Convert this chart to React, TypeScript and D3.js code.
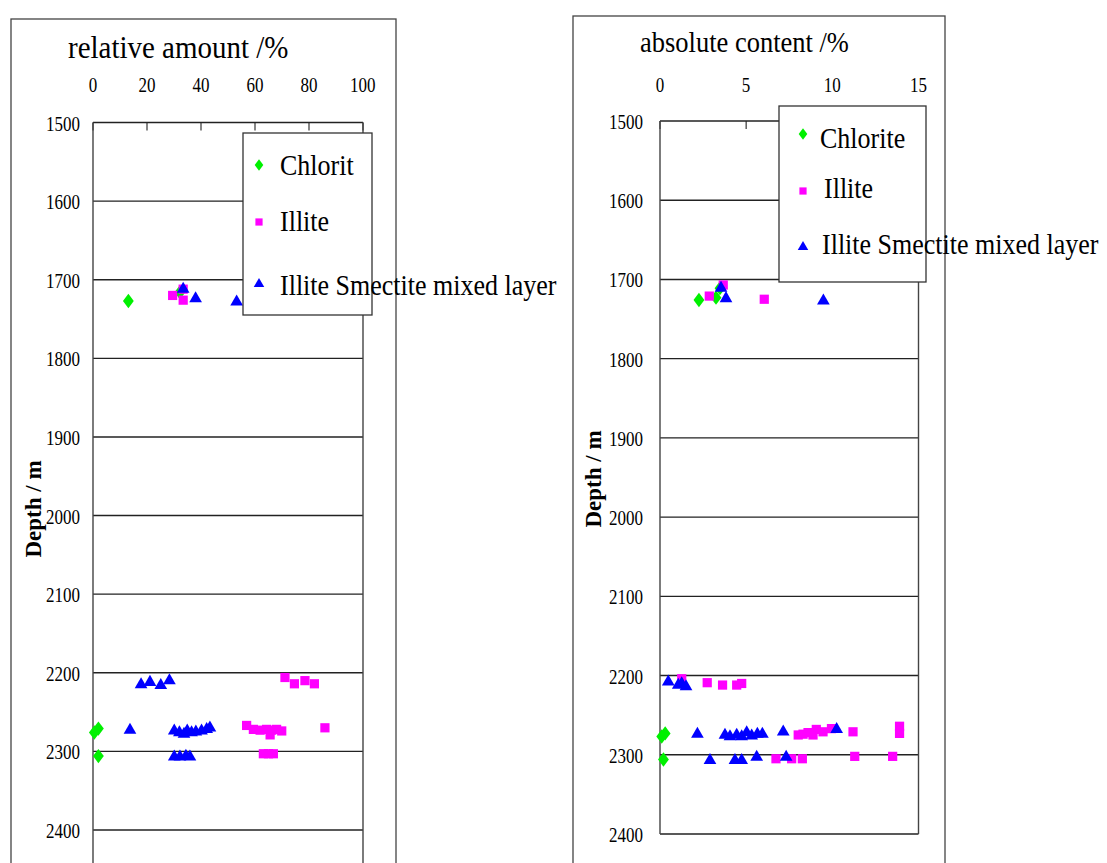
import * as d3 from 'd3'

// depth (m) vs. value
const depthTicks = [1500, 1600, 1700, 1800, 1900, 2000, 2100, 2200, 2300, 2400]
const relTicks = [0, 20, 40, 60, 80, 100]
const absTicks = [0, 5, 10, 15]

const relChlorite = [[13.1, 1727], [32.2, 1716], [0.5, 2276], [2, 2271], [2, 2306]]
const relIllite = [
  [29.5, 1720], [33.4, 1712], [33.4, 1726],
  [71.1, 2206], [74.6, 2214], [78.5, 2210], [82, 2214],
  [56.9, 2267], [59.4, 2272], [61.9, 2273], [64.3, 2272], [66.2, 2273], [68, 2272], [69.9, 2274], [65.6, 2279], [85.9, 2270],
  [63.1, 2303], [65, 2303], [66.8, 2303],
]
const relMixed = [
  [33.4, 1712], [38, 1724], [53.2, 1728],
  [17.8, 2215], [21.1, 2212], [25.1, 2216], [28.3, 2210],
  [13.7, 2273], [30.1, 2274], [32, 2276], [33.7, 2278], [34.9, 2274], [36.5, 2276], [38.1, 2275], [40.2, 2274], [42.1, 2272], [43.3, 2270],
  [30.1, 2307], [32.2, 2307], [34.4, 2306], [35.9, 2307],
]

const absChlorite = [[2.26, 1726], [3.25, 1723], [3.48, 1711], [0.1, 2277], [0.3, 2273], [0.2, 2306]]
const absIllite = [
  [2.86, 1721], [3.67, 1707], [6.05, 1725],
  [1.26, 2204], [2.74, 2209], [3.63, 2212], [4.45, 2212], [4.74, 2210],
  [8.02, 2275], [8.3, 2274], [8.59, 2272], [8.88, 2275], [9.07, 2268], [9.46, 2271], [9.95, 2267], [11.2, 2271], [13.9, 2264], [13.9, 2273],
  [6.73, 2305], [7.64, 2305], [8.26, 2305], [11.3, 2302], [13.5, 2302],
]
const absMixed = [
  [3.54, 1711], [3.83, 1724], [9.48, 1727],
  [0.48, 2208], [1.06, 2212], [1.26, 2210], [1.51, 2214],
  [2.17, 2274], [3.77, 2275], [4.06, 2277], [4.45, 2275], [4.74, 2277], [5.03, 2272], [5.32, 2276], [5.65, 2274], [5.94, 2274], [7.15, 2271], [10.25, 2268],
  [2.9, 2307], [4.35, 2307], [4.74, 2307], [5.61, 2303], [7.32, 2303],
]

const relLegend = ['Chlorit', 'Illite', 'Illite Smectite mixed layer']
const absLegend = ['Chlorite', 'Illite', 'Illite Smectite mixed layer']

const GREEN = '#00f000'
const MAGENTA = '#ff00ff'
const BLUE = '#0000ff'
const SERIF = 'Liberation Serif, Tinos, Times New Roman, DejaVu Serif, serif'

const diamond = d3.symbol(d3.symbolDiamond, 60)()
const square = d3.symbol(d3.symbolSquare, 85)()
const triangle = d3.symbol(d3.symbolTriangle, 70)()
const legDiamond = d3.symbol(d3.symbolDiamond, 38)()
const legSquare = d3.symbol(d3.symbolSquare, 52)()
const legTriangle = d3.symbol(d3.symbolTriangle, 48)()

function Stretch({ x, y, size, children, weight = 'normal', sy = 1.12 }) {
  return (
    <g transform={`translate(${x},${y}) scale(1,${sy})`}>
      <text style={{ fontFamily: SERIF }} fontSize={size} fontWeight={weight} fill="#000">{children}</text>
    </g>
  )
}

function Panel(p) {
  const x = d3.scaleLinear().domain(p.xDomain).range([p.left, p.right])
  const y = d3.scaleLinear().domain([1500, 2400]).range([p.top, p.bottom])
  const lg = p.legend
  const markers = [
    { path: legDiamond, color: GREEN, sx: 1.3 },
    { path: legSquare, color: MAGENTA, sx: 1 },
    { path: legTriangle, color: BLUE, sx: 1 },
  ]
  return (
    <g>
      <rect x={p.frame[0]} y={p.frame[1]} width={p.frame[2]} height={1000} fill="none" stroke="#444" strokeWidth={1.3} />
      <Stretch x={p.titleX} y={p.titleY} size={p.titleSize}>{p.title}</Stretch>
      {p.xTicks.map(t => (
        <g key={t}>
          <Stretch x={x(t) - 4.3 * String(t).length} y={92} size={17} sy={1.2}>{t}</Stretch>
          <line x1={x(t)} x2={x(t)} y1={p.top} y2={p.top + 8} stroke="#444" strokeWidth={1.3} />
        </g>
      ))}
      {depthTicks.map(t => (
        <g key={t}>
          <g transform={`translate(${p.left - p.labelGap},${y(t) + 8}) scale(1,1.2)`}>
            <text style={{ fontFamily: SERIF }} fontSize={17} textAnchor="end" fill="#000">{t}</text>
          </g>
          <line x1={p.left} x2={p.right} y1={y(t)} y2={y(t)} stroke="#222" strokeWidth={1.4} />
        </g>
      ))}
      <line x1={p.left} x2={p.left} y1={p.top} y2={p.frameBottom} stroke="#444" strokeWidth={1.4} />
      <line x1={p.right} x2={p.right} y1={p.top} y2={p.frameBottom} stroke="#444" strokeWidth={1.4} />
      <g transform={`translate(${p.depthX},${p.depthY}) rotate(-90)`}>
        <text style={{ fontFamily: SERIF }} fontSize={23} fontWeight="bold" textAnchor="middle" fill="#000">Depth / m</text>
      </g>
      {p.chlorite.map((d, i) => (
        <path key={'c' + i} d={diamond} fill={GREEN} transform={`translate(${x(d[0])},${y(d[1])}) scale(1.3,1)`} />
      ))}
      {p.illite.map((d, i) => (
        <path key={'i' + i} d={square} fill={MAGENTA} transform={`translate(${x(d[0])},${y(d[1])})`} />
      ))}
      {p.mixed.map((d, i) => (
        <path key={'m' + i} d={triangle} fill={BLUE} transform={`translate(${x(d[0])},${y(d[1])})`} />
      ))}
      <rect x={lg.box[0]} y={lg.box[1]} width={lg.box[2] - lg.box[0]} height={lg.box[3] - lg.box[1]} fill="#fff" stroke="#333" strokeWidth={1.3} />
      {p.legendLabels.map((label, i) => (
        <g key={label}>
          <path d={markers[i].path} fill={markers[i].color} transform={`translate(${lg.mx},${lg.my[i]}) scale(${markers[i].sx},1)`} />
          <Stretch x={lg.tx[i]} y={lg.ty[i]} size={26}>{label}</Stretch>
        </g>
      ))}
    </g>
  )
}

export default function App() {
  return (
    <svg width={1107} height={863} style={{ position: 'absolute', left: 0, top: 0, background: '#fff' }}>
      <rect width={1107} height={863} fill="#fff" />
      <Panel
        frame={[11, 19, 385]}
        title="relative amount /%"
        titleX={68}
        titleY={58}
        titleSize={29}
        xDomain={[0, 100]}
        xTicks={relTicks}
        left={93}
        right={363}
        top={122.5}
        bottom={830}
        frameBottom={880}
        labelGap={13}
        depthX={41}
        depthY={509}
        chlorite={relChlorite}
        illite={relIllite}
        mixed={relMixed}
        legendLabels={relLegend}
        legend={{ box: [243, 133, 372, 315], mx: 259, my: [165, 222, 284], tx: [280, 280, 280], ty: [175, 231, 295] }}
      />
      <Panel
        frame={[573, 16, 372]}
        title="absolute content /%"
        titleX={640}
        titleY={52}
        titleSize={26.5}
        xDomain={[0, 15]}
        xTicks={absTicks}
        left={660}
        right={918.5}
        top={121}
        bottom={834}
        frameBottom={834}
        labelGap={17}
        depthX={601}
        depthY={479}
        chlorite={absChlorite}
        illite={absIllite}
        mixed={absMixed}
        legendLabels={absLegend}
        legend={{ box: [779, 106, 926, 282], mx: 803, my: [134, 191, 247], tx: [820, 824, 822], ty: [148, 198, 254] }}
      />
    </svg>
  )
}
